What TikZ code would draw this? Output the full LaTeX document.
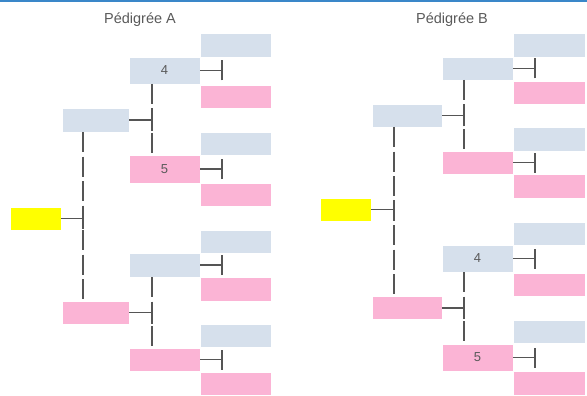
\documentclass[tikz,border=0pt]{standalone}
\usepackage{fontspec}
\setmainfont{Liberation Sans}
\definecolor{topblue}{HTML}{3A87C9}
\definecolor{boxblue}{HTML}{D6E0EC}
\definecolor{boxpink}{HTML}{FBB4D5}
\definecolor{boxyellow}{HTML}{FFFF00}
\definecolor{linegray}{HTML}{555555}
\definecolor{textgray}{HTML}{5A5A5A}
\tikzset{
  box/.style={rectangle, draw=white, line width=0.4pt, inner sep=0pt, outer sep=0pt,
    font=\fontsize{13}{13}\selectfont, text=textgray},
  bb/.style={box, fill=boxblue},
  pb/.style={box, fill=boxpink},
  yb/.style={box, fill=boxyellow},
  link/.style={draw=linegray, line width=1.4pt},
  gapline/.style={link, dash pattern=on 20pt off 4.5pt},
  title/.style={font=\fontsize{14.5}{14.5}\selectfont, text=textgray},
}
\begin{document}
\begin{tikzpicture}[x=1pt,y=-1pt]
\useasboundingbox (0,0) rectangle (587,396);
\fill[white] (0,0) rectangle (587,396);
\coordinate (tl) at (0,1);
\coordinate (tr) at (587,1);
\draw[topblue, line width=2pt] (tl) -- (tr);

\node[title] (ta) at (140,20) {Pédigrée A};
\node[title] (tb) at (452,20) {Pédigrée B};

% ---------- Pedigree A ----------
\node[yb, minimum width=51, minimum height=23] (a0) at (35.5,218.5) {};
\node[bb, minimum width=67, minimum height=24] (a1) at (95.5,120) {};
\node[pb, minimum width=67, minimum height=23] (a2) at (95.5,312.5) {};
\node[bb, minimum width=71, minimum height=27] (a3) at (164.5,70.5) {4};
\node[pb, minimum width=71, minimum height=28] (a4) at (164.5,169) {5};
\node[bb, minimum width=71, minimum height=24] (a5) at (164.5,265) {};
\node[pb, minimum width=71, minimum height=23] (a6) at (164.5,359.5) {};
\foreach \n/\s/\y in {a7/bb/45, a8/pb/96.5, a9/bb/143.5, a10/pb/194.5,
                      a11/bb/241.5, a12/pb/289, a13/bb/335.5, a14/pb/383.5}
  \node[\s, minimum width=71, minimum height=23.5] (\n) at (235.5,\y) {};

% T junctions A
\coordinate (ja0) at (83,218.5);
\coordinate (ja1) at (152,120);
\coordinate (ja2) at (152,312.5);
\draw[link] (a0.east) -- (ja0);
\draw[link] ([yshift=-10pt]ja0) -- ([yshift=10pt]ja0);
\draw[gapline] (a1.south -| ja0) -- (a2.north -| ja0);
\draw[link] (a1.east) -- (ja1);
\draw[link] ([yshift=-11pt]ja1) -- ([yshift=10pt]ja1);
\draw[gapline] (a3.south -| ja1) -- (a4.north -| ja1);
\draw[link] (a2.east) -- (ja2);
\draw[link] ([yshift=-11pt]ja2) -- ([yshift=10pt]ja2);
\draw[gapline] (a5.south -| ja2) -- (a6.north -| ja2);
\foreach \n in {a3,a4,a5,a6} {
  \coordinate (t\n) at ([xshift=22pt]\n.east);
  \draw[link] (\n.east) -- (t\n);
  \draw[link] ([yshift=-10pt]t\n) -- ([yshift=10pt]t\n);
}

% ---------- Pedigree B ----------
\node[yb, minimum width=51, minimum height=23] (b0) at (345.5,209.5) {};
\node[bb, minimum width=70, minimum height=23] (b1) at (407,115.5) {};
\node[pb, minimum width=70, minimum height=23] (b2) at (407,308) {};
\node[bb, minimum width=71, minimum height=23] (b3) at (477.5,68.5) {};
\node[pb, minimum width=71, minimum height=23] (b4) at (477.5,162.5) {};
\node[bb, minimum width=71, minimum height=27] (b5) at (477.5,258.5) {4};
\node[pb, minimum width=71, minimum height=27] (b6) at (477.5,357.5) {5};
\foreach \n/\s/\y in {b7/bb/45, b8/pb/92.5, b9/bb/139, b10/pb/186,
                      b11/bb/233.5, b12/pb/284.5, b13/bb/331.5, b14/pb/383}
  \node[\s, minimum width=72, minimum height=23.5] (\n) at (549,\y) {};

% T junctions B
\coordinate (jb0) at (394,209.5);
\coordinate (jb1) at (464,115.5);
\coordinate (jb2) at (464,308);
\draw[link] (b0.east) -- (jb0);
\draw[link] ([yshift=-10pt]jb0) -- ([yshift=10pt]jb0);
\draw[gapline] (b1.south -| jb0) -- (b2.north -| jb0);
\draw[link] (b1.east) -- (jb1);
\draw[link] ([yshift=-11pt]jb1) -- ([yshift=10pt]jb1);
\draw[gapline] (b3.south -| jb1) -- (b4.north -| jb1);
\draw[link] (b2.east) -- (jb2);
\draw[link] ([yshift=-11pt]jb2) -- ([yshift=10pt]jb2);
\draw[gapline] (b5.south -| jb2) -- (b6.north -| jb2);
\foreach \n in {b3,b4,b5,b6} {
  \coordinate (t\n) at ([xshift=22pt]\n.east);
  \draw[link] (\n.east) -- (t\n);
  \draw[link] ([yshift=-10pt]t\n) -- ([yshift=10pt]t\n);
}
\end{tikzpicture}
\end{document}
